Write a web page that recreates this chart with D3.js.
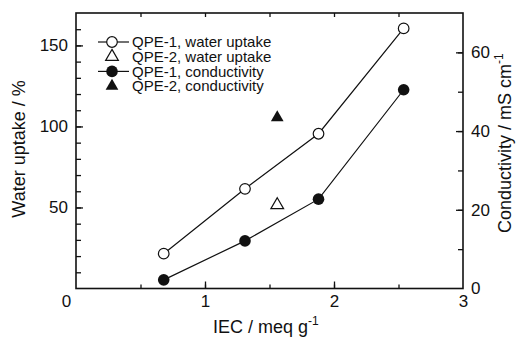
<!DOCTYPE html>
<html>
<head>
<meta charset="utf-8">
<script src="https://cdn.jsdelivr.net/npm/d3@7"></script>
<style>
  body { margin: 0; background: #fff; }
  svg { font-family: "Liberation Sans", Arial, sans-serif; }
  .axis path, .axis line { stroke: #111; }
  .axis text { fill: #111; font-size: 17px; font-family: "Liberation Sans", Arial, sans-serif; }
</style>
</head>
<body>
<div id="chart"></div>
<script>
// data
var iecQpe1 = [0.68, 1.31, 1.88, 2.54];
var uptakeQpe1 = [21.5, 61.5, 95.5, 160.5];
var condQpe1 = [2.2, 12.1, 22.7, 50.5];
var iecQpe2 = [1.56];
var uptakeQpe2 = [51.5];
var condQpe2 = [43.4];
var legendLabels = ["QPE-1, water uptake", "QPE-2, water uptake", "QPE-1, conductivity", "QPE-2, conductivity"];

var svgWidth = 516, svgHeight = 337;
var margin = { top: 13, right: 53, bottom: 48.5, left: 76 };
var width = svgWidth - margin.left - margin.right;
var height = svgHeight - margin.top - margin.bottom;

var svg = d3.select("#chart").append("svg")
    .attr("width", svgWidth)
    .attr("height", svgHeight);

var chartGroup = svg.append("g")
    .attr("transform", `translate(${margin.left}, ${margin.top})`);

var xScale = d3.scaleLinear().domain([0, 3]).range([0, width]);
var yLeft = d3.scaleLinear().domain([0, 170]).range([height, 0]);
var yRight = d3.scaleLinear().domain([0, 70]).range([height, 0]);

// minor ticks first (no labels)
function minor(axis, vals) {
    return axis.tickValues(vals).tickFormat("").tickSizeOuter(0);
}
var xMinor = d3.range(0.5, 3, 0.5);
chartGroup.append("g").attr("class", "axis")
    .attr("transform", `translate(0, ${height})`)
    .call(minor(d3.axisTop(xScale), xMinor).tickSize(4));
chartGroup.append("g").attr("class", "axis")
    .call(minor(d3.axisBottom(xScale), xMinor).tickSize(4));
chartGroup.append("g").attr("class", "axis")
    .call(minor(d3.axisRight(yLeft), d3.range(10, 170, 10)).tickSize(5));
chartGroup.append("g").attr("class", "axis")
    .attr("transform", `translate(${width}, 0)`)
    .call(minor(d3.axisLeft(yRight), d3.range(10, 70, 10)).tickSize(5));

// major ticks with labels
var bottomAxis = d3.axisBottom(xScale).tickValues([0, 1, 2, 3]).tickFormat(d3.format("d")).tickSizeOuter(0).tickSize(0).tickPadding(6.5);
var xAxis = chartGroup.append("g").attr("class", "axis")
    .attr("transform", `translate(0, ${height})`)
    .call(bottomAxis);
xAxis.selectAll(".tick").filter(d => d === 0).select("text").attr("x", -10);
xAxis.selectAll(".tick").filter(d => d > 0 && d < 3).append("line").attr("y2", -7);

var leftAxis = d3.axisLeft(yLeft).tickValues([50, 100, 150]).tickSize(0).tickPadding(8).tickSizeOuter(0);
var yAxisL = chartGroup.append("g").attr("class", "axis").call(leftAxis);
yAxisL.selectAll(".tick").append("line").attr("x2", 7);

var rightAxis = d3.axisRight(yRight).tickValues([0, 20, 40, 60]).tickSize(0).tickPadding(8).tickSizeOuter(0);
var yAxisR = chartGroup.append("g").attr("class", "axis")
    .attr("transform", `translate(${width}, 0)`)
    .call(rightAxis);
yAxisR.selectAll(".tick").filter(d => d > 0).append("line").attr("x2", -7);

// frame
chartGroup.append("rect")
    .attr("width", width).attr("height", height)
    .attr("fill", "none").attr("stroke", "#111").attr("stroke-width", 1.6);
chartGroup.selectAll(".axis .domain").remove();
chartGroup.selectAll(".axis line").attr("stroke-width", 1.3);

// lines
var lineUptake = d3.line().x((d, i) => xScale(iecQpe1[i])).y(d => yLeft(d));
var lineCond = d3.line().x((d, i) => xScale(iecQpe1[i])).y(d => yRight(d));
chartGroup.append("path").datum(uptakeQpe1).attr("d", lineUptake)
    .attr("fill", "none").attr("stroke", "#111").attr("stroke-width", 1.2);
chartGroup.append("path").datum(condQpe1).attr("d", lineCond)
    .attr("fill", "none").attr("stroke", "#111").attr("stroke-width", 1.2);

// markers
chartGroup.selectAll(".up1").data(uptakeQpe1).enter().append("circle")
    .attr("cx", (d, i) => xScale(iecQpe1[i])).attr("cy", d => yLeft(d))
    .attr("r", 5.3).attr("fill", "#fff").attr("stroke", "#111").attr("stroke-width", 1.2);
chartGroup.selectAll(".cd1").data(condQpe1).enter().append("circle")
    .attr("cx", (d, i) => xScale(iecQpe1[i])).attr("cy", d => yRight(d))
    .attr("r", 5.8).attr("fill", "#111");
var tri = d3.symbol().type(d3.symbolTriangle).size(70);
chartGroup.selectAll(".up2").data(uptakeQpe2).enter().append("path")
    .attr("d", tri)
    .attr("transform", (d, i) => `translate(${xScale(iecQpe2[i])}, ${yLeft(d)})`)
    .attr("fill", "#fff").attr("stroke", "#111").attr("stroke-width", 1.2);
chartGroup.selectAll(".cd2").data(condQpe2).enter().append("path")
    .attr("d", tri)
    .attr("transform", (d, i) => `translate(${xScale(iecQpe2[i])}, ${yRight(d)})`)
    .attr("fill", "#111");

// legend
var legendRows = [42, 56.7, 71.4, 86];
var legend = svg.append("g");
legendLabels.forEach(function (label, i) {
    var y = legendRows[i];
    var g = legend.append("g").attr("transform", `translate(0, ${y})`);
    if (i === 0 || i === 2) {
        g.append("line").attr("x1", 98).attr("x2", 129).attr("stroke", "#111").attr("stroke-width", 1.2);
    }
    if (i === 0) {
        g.append("circle").attr("cx", 112).attr("r", 5.3).attr("fill", "#fff").attr("stroke", "#111").attr("stroke-width", 1.2);
    } else if (i === 2) {
        g.append("circle").attr("cx", 112).attr("r", 5.8).attr("fill", "#111");
    } else {
        g.append("path").attr("d", tri).attr("transform", "translate(112, 0)")
            .attr("fill", i === 1 ? "#fff" : "#111").attr("stroke", "#111").attr("stroke-width", i === 1 ? 1.2 : 0);
    }
    g.append("text").attr("x", 132).attr("y", 5.3)
        .attr("font-size", "15px").attr("fill", "#111").text(label);
});

// axis titles
var xTitle = svg.append("text").attr("x", 213).attr("y", 333)
    .attr("font-size", "18px").attr("fill", "#111");
xTitle.append("tspan").text("IEC / meq g");
xTitle.append("tspan").attr("dy", -8).attr("font-size", "12px").text("-1");

svg.append("text")
    .attr("transform", "rotate(-90)")
    .attr("x", -149).attr("y", 25)
    .attr("text-anchor", "middle")
    .attr("font-size", "18px").attr("fill", "#111")
    .text("Water uptake / %");

var rTitle = svg.append("text")
    .attr("transform", "rotate(-90)")
    .attr("x", -233).attr("y", 511)
    .attr("font-size", "18px").attr("fill", "#111");
rTitle.append("tspan").text("Conductivity / mS cm");
rTitle.append("tspan").attr("dy", -8).attr("font-size", "12px").text("-1");
</script>
</body>
</html>
